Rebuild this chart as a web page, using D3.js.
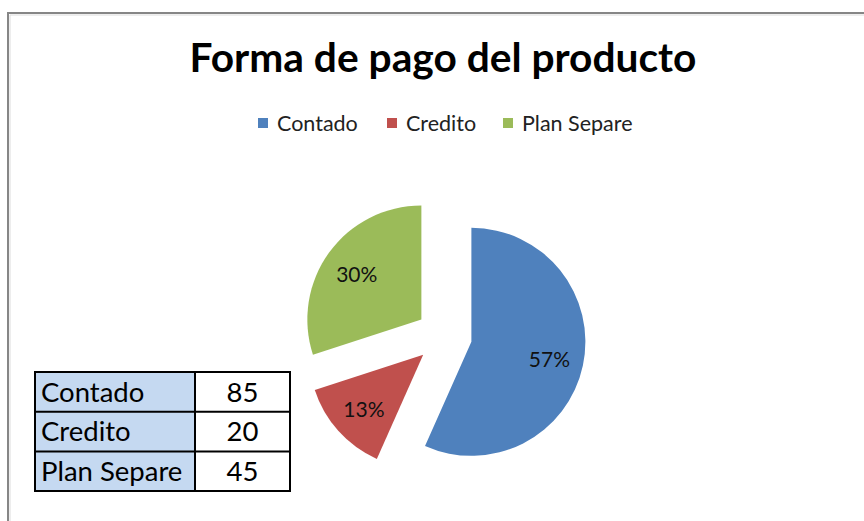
<!DOCTYPE html>
<html><head><meta charset="utf-8">
<script src="https://cdn.jsdelivr.net/npm/d3@7"></script>
<style>body{margin:0;background:#fff}svg{display:block}</style>
</head><body>
<script>
const categories = ["Contado", "Credito", "Plan Separe"];
const values = [85, 20, 45];
const colors = ["#4F81BD", "#C0504D", "#9BBB59"];
const title = "Forma de pago del producto";
const FONT = "Lato, 'Open Sans', sans-serif";

const W = 864, H = 521;
const svg = d3.select("body").append("svg").attr("width", W).attr("height", H);
svg.append("rect").attr("width", W).attr("height", H).attr("fill", "#fff");

// chart frame
svg.append("path").attr("d", `M8,${H} V13 H${W}`).attr("fill", "none").attr("stroke", "#868686").attr("stroke-width", 2);
svg.append("path").attr("d", `M10,${H} V15 H${W}`).attr("fill", "none").attr("stroke", "#dcdcdc").attr("stroke-width", 1);

// title
const t = svg.append("text").attr("x", 443).attr("y", 72).attr("text-anchor", "middle")
  .attr("font-family", FONT).attr("font-weight", "bold").attr("font-size", 36).attr("fill", "#000").text(title);
const tw = t.node().getComputedTextLength();
t.attr("font-size", 36 * 507 / tw);

// legend
const legX = [258, 387, 503];
const leg = svg.append("g");
categories.forEach((c, i) => {
  leg.append("rect").attr("x", legX[i]).attr("y", 118).attr("width", 10).attr("height", 10).attr("fill", colors[i]);
  leg.append("text").attr("x", legX[i] + 19).attr("y", 131).attr("font-family", FONT).attr("font-size", 21.5)
    .attr("fill", "#222").text(c);
});

// pie
const cx = 444, cy = 336, r = 114, explode = 28;
const total = d3.sum(values);
const pie = d3.pie().sort(null).value(d => d)(values);
const arc = d3.arc().innerRadius(0).outerRadius(r);
const g = svg.append("g").attr("transform", `translate(${cx},${cy})`);
pie.forEach((p, i) => {
  const mid = (p.startAngle + p.endAngle) / 2;
  const dx = Math.sin(mid) * explode, dy = -Math.cos(mid) * explode;
  const sg = g.append("g").attr("transform", `translate(${dx},${dy})`);
  sg.append("path").attr("d", arc(p)).attr("fill", colors[i]);
  const lr = r * 0.7;
  sg.append("text").attr("x", Math.sin(mid) * lr).attr("y", -Math.cos(mid) * lr + 9)
    .attr("text-anchor", "middle").attr("font-family", FONT).attr("font-size", 21).attr("fill", "#111")
    .text(Math.round(values[i] / total * 100) + "%");
});

// data table
const tx0 = 35, tx1 = 195, tx2 = 290, ty0 = 372, rh = 39.7;
const tb = svg.append("g");
categories.forEach((c, i) => {
  const y = ty0 + i * rh;
  tb.append("rect").attr("x", tx0).attr("y", y).attr("width", tx1 - tx0).attr("height", rh).attr("fill", "#C5D9F1");
  tb.append("text").attr("x", tx0 + 6).attr("y", y + rh - 10).attr("font-family", FONT).attr("font-size", 27.5).attr("fill", "#000").text(c);
  tb.append("text").attr("x", (tx1 + tx2) / 2).attr("y", y + rh - 10).attr("text-anchor", "middle").attr("font-family", FONT).attr("font-size", 27.5).attr("fill", "#000").text(values[i]);
});
for (let i = 0; i <= categories.length; i++) {
  tb.append("line").attr("x1", tx0).attr("x2", tx2).attr("y1", ty0 + i * rh).attr("y2", ty0 + i * rh).attr("stroke", "#000").attr("stroke-width", 2);
}
[tx0, tx1, tx2].forEach(x => tb.append("line").attr("x1", x).attr("x2", x).attr("y1", ty0 - 1).attr("y2", ty0 + categories.length * rh + 1).attr("stroke", "#000").attr("stroke-width", 2));
</script>
</body></html>
